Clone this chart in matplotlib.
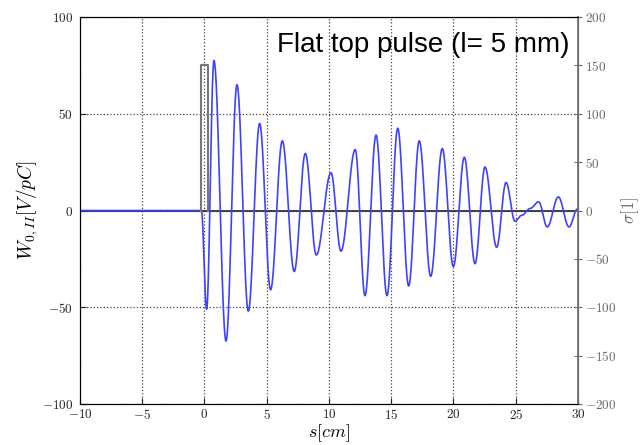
"""Wake potential of a flat top pulse (l = 5 mm)."""

import numpy
from matplotlib import pyplot
from matplotlib.ticker import FuncFormatter

# Wake extrema: s [cm] and W [V/pC].
s_ext = [-10.0, -0.25, 0.17, 0.76, 1.73, 2.61, 3.52, 4.43, 5.31, 6.25, 7.21,
         8.10, 8.98, 10.16, 10.96, 12.11, 12.89, 13.78, 14.66, 15.52, 16.40,
         17.25, 18.17, 19.10, 19.99, 20.87, 21.73, 22.53, 23.47, 24.22,
         24.94, 25.48, 26.14, 26.84, 27.53, 28.42, 29.28, 29.95]
w_ext = [0.0, 0.0, -51.0, 77.5, -67.5, 65.0, -52.0, 45.0, -41.0, 36.0, -31.5,
         29.5, -23.0, 19.5, -21.0, 31.5, -44.0, 39.0, -44.0, 42.5, -39.0,
         36.0, -34.0, 32.0, -29.0, 27.5, -27.5, 22.5, -19.0, 14.5,
         -5.5, -2.5, 1.0, 4.5, -8.5, 7.0, -8.5, 0.8]

# Flat top pulse (sigma [1]).
pulse_s = [-0.25, -0.25, 0.25, 0.25]
pulse_sigma = [0.0, 150.0, 150.0, 0.0]

x_ticks = [-10, -5, 0, 5, 10, 15, 20, 25, 30]
left_ticks = [-100, -50, 0, 50, 100]
right_ticks = [-200, -150, -100, -50, 0, 50, 100, 150, 200]

# Smooth trace through the extrema (half-cosine between neighbours).
s_line, w_line = [], []
for i in range(len(s_ext) - 1):
    t = numpy.linspace(0.0, 1.0, 40)
    h = 0.5 - 0.5 * numpy.cos(numpy.pi * t)
    s_line.append(s_ext[i] + (s_ext[i + 1] - s_ext[i]) * t)
    w_line.append(w_ext[i] + (w_ext[i + 1] - w_ext[i]) * h)
s_line = numpy.concatenate(s_line)
w_line = numpy.concatenate(w_line)

pyplot.rcParams['mathtext.fontset'] = 'cm'
pyplot.rcParams['font.family'] = 'DejaVu Serif'
math_fmt = FuncFormatter(lambda v, _: f'${v:g}$')

fig = pyplot.figure(figsize=(6.43, 4.45), dpi=100)
ax1 = fig.add_axes([0.1244, 0.0921, 0.7745, 0.8697])
ax2 = ax1.twinx()

ax1.plot(s_line, w_line, color='#4040ff', linewidth=1.2, zorder=3)
ax1.axhline(0.0, color='#333333', linewidth=1.3, zorder=2)
ax2.plot(pulse_s, pulse_sigma, color='#777777', linewidth=1.5)

ax1.set_xlim(-10, 30)
ax1.set_ylim(-100, 100)
ax2.set_ylim(-200, 200)
ax1.set_xticks(x_ticks)
ax1.set_yticks(left_ticks)
ax2.set_yticks(right_ticks)
ax1.xaxis.set_major_formatter(math_fmt)
ax1.yaxis.set_major_formatter(math_fmt)
ax2.yaxis.set_major_formatter(math_fmt)

ax1.grid(True, linestyle=':', color='#444444', linewidth=0.9)
ax1.tick_params(direction='in', length=4, labelsize=9.5, colors='#222222',
                pad=3)
ax1.tick_params(axis='y', pad=5)
ax2.tick_params(direction='inout', length=6, labelsize=9.5,
                colors='#666666', pad=2)
ax2.spines['right'].set_color('#777777')
ax2.spines['right'].set_linewidth(1.3)
for side in ['left', 'bottom', 'top']:
    ax1.spines[side].set_color('#222222')

ax1.set_xlabel('$s[cm]$', fontsize=13, labelpad=0)
ax1.set_ylabel('$W_{0,II}[V/pC]$', fontsize=14, labelpad=1)
ax2.set_ylabel(r'$\sigma[1]$', fontsize=12, color='#666666', labelpad=2)

ax1.text(0.983, 0.96, 'Flat top pulse (l= 5 mm)', transform=ax1.transAxes,
         ha='right', va='top', fontsize=20, family='Liberation Sans',
         color='black', zorder=5)

fig.savefig('out.png', dpi=100)
